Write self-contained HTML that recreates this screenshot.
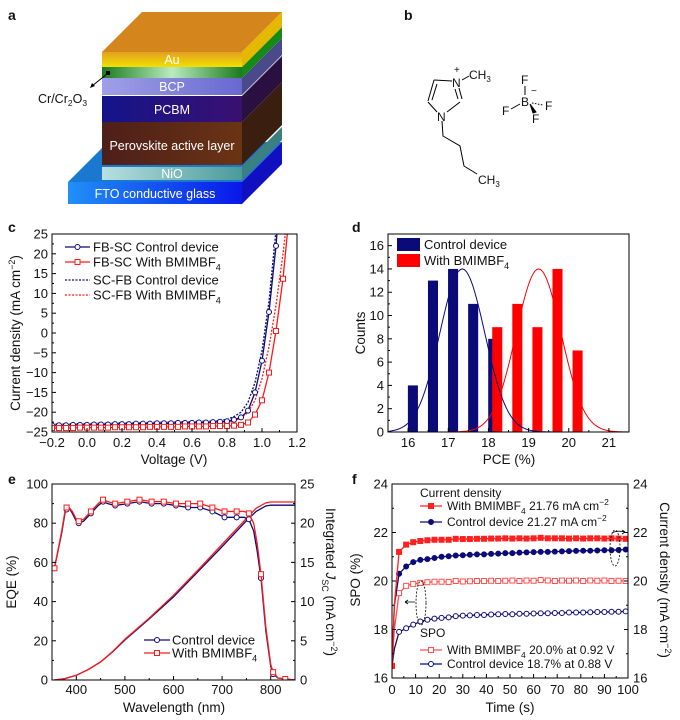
<!DOCTYPE html>
<html><head><meta charset="utf-8">
<style>
html,body{margin:0;padding:0;background:#fff;}
svg{display:block;font-family:"Liberation Sans",Arial,sans-serif;}
text{fill:#111;}
</style></head>
<body>
<svg id="fig" width="680" height="720" viewBox="0 0 680 720" xmlns="http://www.w3.org/2000/svg">
<defs>
<linearGradient id="gAu" x1="0" y1="0" x2="0" y2="1"><stop offset="0" stop-color="#e2a020"/><stop offset="1" stop-color="#f2e000"/></linearGradient>
<linearGradient id="gGr" x1="0" y1="0" x2="1" y2="0"><stop offset="0" stop-color="#1c7a1c"/><stop offset="0.5" stop-color="#b8ecc0"/><stop offset="1" stop-color="#1c7a1c"/></linearGradient>
<linearGradient id="gBcp" x1="0" y1="0" x2="1" y2="0"><stop offset="0" stop-color="#a0a0e8"/><stop offset="1" stop-color="#6868d0"/></linearGradient>
<linearGradient id="gPc" x1="0" y1="0" x2="1" y2="0"><stop offset="0" stop-color="#14148a"/><stop offset="1" stop-color="#3a1070"/></linearGradient>
<linearGradient id="gPv" x1="0" y1="0" x2="1" y2="0"><stop offset="0" stop-color="#4e1e1a"/><stop offset="1" stop-color="#6a3414"/></linearGradient>
<linearGradient id="gNi" x1="0" y1="0" x2="1" y2="0"><stop offset="0" stop-color="#b8e0e0"/><stop offset="1" stop-color="#4a9a9a"/></linearGradient>
<linearGradient id="gFto" x1="0" y1="0" x2="1" y2="0"><stop offset="0" stop-color="#2090f8"/><stop offset="1" stop-color="#0818e8"/></linearGradient>
<clipPath id="clipC"><rect x="52" y="234" width="245" height="198"/></clipPath>
<clipPath id="clipD"><rect x="388" y="234" width="241" height="198"/></clipPath>
<clipPath id="clipE"><rect x="52" y="484" width="243" height="196"/></clipPath>
<clipPath id="clipF"><rect x="392" y="484" width="236" height="194"/></clipPath>
</defs>

<!-- Panel a -->
<g>
<text x="8" y="20" font-size="14" font-weight="bold">a</text>
<polygon points="68,182 108,142 282,142 242,182" fill="#1a78d0"/>
<polygon points="242,182 282,142 282,164 242,204" fill="#1010c0"/>
<rect x="68" y="182" width="174" height="22" fill="url(#gFto)"/>
<polygon points="242,167 282,127 282,140 242,180" fill="#3a8080"/>
<rect x="102" y="167" width="140" height="13" fill="url(#gNi)"/>
<polygon points="242,122 282,82 282,125 242,165" fill="#3a1e10"/>
<rect x="102" y="122" width="140" height="43" fill="url(#gPv)"/>
<polygon points="242,96 282,56 282,82 242,122" fill="#2a1040"/>
<rect x="102" y="96" width="140" height="26" fill="url(#gPc)"/>
<polygon points="242,78 282,38 282,55 242,95" fill="#4a4a8a"/>
<rect x="102" y="78" width="140" height="17" fill="url(#gBcp)"/>
<polygon points="242,67 282,27 282,38 242,78" fill="#168a16"/>
<rect x="102" y="67" width="140" height="11" fill="url(#gGr)"/>
<polygon points="102,52 142,12 282,12 242,52" fill="#d4851c"/>
<polygon points="242,52 282,12 282,27 242,67" fill="#e6b800"/>
<rect x="102" y="52" width="140" height="15" fill="url(#gAu)"/>
<g fill="#fff" font-size="12.5" text-anchor="middle">
<text x="172" y="64" style="fill:#fff">Au</text>
<text x="172" y="91" style="fill:#fff">BCP</text>
<text x="172" y="114" style="fill:#fff">PCBM</text>
<text x="172" y="150" style="fill:#fff">Perovskite active layer</text>
<text x="172" y="178" style="fill:#fff">NiO</text>
<text x="155" y="198" style="fill:#fff">FTO conductive glass</text>
</g>
<rect x="106" y="71" width="4" height="4" fill="#000"/>
<line x1="107" y1="74" x2="92" y2="86" stroke="#000" stroke-width="1"/>
<polygon points="90,88 92,83 95,86" fill="#000"/>
<text x="38" y="103" font-size="12.5">Cr/Cr<tspan font-size="8.5" dy="3">2</tspan><tspan dy="-3">O</tspan><tspan font-size="8.5" dy="3">3</tspan></text>
</g>

<!-- Panel b -->
<g stroke="#000" stroke-width="1" fill="none">
<text x="404" y="20" font-size="14" font-weight="bold" stroke="none">b</text>
<line x1="434" y1="80" x2="452" y2="81"/>
<line x1="459" y1="88" x2="462" y2="99"/>
<line x1="455" y1="89" x2="458" y2="99"/>
<line x1="460" y1="102" x2="447" y2="112"/>
<line x1="437" y1="112" x2="428" y2="102"/>
<line x1="428" y1="101" x2="434" y2="80"/>
<line x1="432" y1="100" x2="437" y2="84"/>
<line x1="462" y1="80" x2="469" y2="76"/>
<polyline points="442,121 443,136 460,146 464,166 477,174"/>
<g stroke="none" font-size="12" fill="#000">
<text x="452" y="87">N</text>
<text x="454" y="73" font-size="10">+</text>
<text x="469" y="79">CH<tspan font-size="8" dy="3">3</tspan></text>
<text x="437" y="121">N</text>
<text x="478" y="184">CH<tspan font-size="8" dy="3">3</tspan></text>
<text x="521" y="106">B</text>
<text x="531" y="94" font-size="10">−</text>
<text x="521" y="84">F</text>
<text x="502" y="115">F</text>
<text x="545" y="110">F</text>
<text x="532" y="123">F</text>
</g>
<line x1="525" y1="86" x2="525" y2="95"/>
<line x1="511" y1="109" x2="520" y2="104"/>
<line x1="532" y1="103" x2="543" y2="105" stroke-dasharray="1.5,1.5"/>
<polygon points="530,104 536,112 533,113" fill="#000"/>
</g>
</svg>
<script>
const NS="http://www.w3.org/2000/svg";
const svg=document.getElementById('fig');

// ---------- DATA ----------
// Panel c (J-V)
const cVolt=[-0.2,-0.16,-0.12,-0.08,-0.04,0,0.04,0.08,0.12,0.16,0.2,0.24,0.28,0.32,0.36,0.4,0.44,0.48,0.52,0.56,0.6,0.64,0.68,0.72,0.76,0.8,0.84,0.88,0.92,0.96,1.0,1.04,1.08,1.12,1.16];
const cFbControl=[-23.3,-23.3,-23.3,-23.2,-23.2,-23.2,-23.1,-23.1,-23.1,-23.0,-23.0,-23.0,-22.9,-22.9,-22.9,-22.8,-22.8,-22.8,-22.7,-22.7,-22.7,-22.6,-22.6,-22.5,-22.4,-22.3,-21.9,-21.3,-19.6,-15,-7,5.3,22,45,70];
const cFbBmim=[-24.0,-24.0,-24.0,-24.0,-23.9,-23.9,-23.9,-23.9,-23.9,-23.8,-23.8,-23.8,-23.8,-23.8,-23.7,-23.7,-23.7,-23.7,-23.7,-23.6,-23.6,-23.6,-23.6,-23.5,-23.5,-23.5,-23.4,-23.2,-22.6,-20.6,-17,-10,0.5,13.7,32];
const cScControl=[-23.0,-23.0,-23.0,-22.9,-22.9,-22.9,-22.8,-22.8,-22.8,-22.7,-22.7,-22.7,-22.6,-22.6,-22.6,-22.5,-22.5,-22.5,-22.4,-22.4,-22.4,-22.3,-22.3,-22.2,-22.1,-21.8,-21.1,-20,-17.5,-12.5,-4.5,8,26,50,75];
const cScBmim=[-23.6,-23.6,-23.6,-23.5,-23.5,-23.5,-23.4,-23.4,-23.4,-23.3,-23.3,-23.3,-23.2,-23.2,-23.2,-23.1,-23.1,-23.1,-23.0,-23.0,-23.0,-23.0,-22.9,-22.9,-22.8,-22.7,-22.2,-21.5,-20,-17,-11.5,-3.5,7,20,35];
const cXTicks=[-0.2,0,0.2,0.4,0.6,0.8,1.0,1.2];
const cXTickLabels=["−0.2","0.0","0.2","0.4","0.6","0.8","1.0","1.2"];
const cYTicks=[-25,-20,-15,-10,-5,0,5,10,15,20,25];
const cYTickLabels=["−25","−20","−15","−10","−5","0","5","10","15","20","25"];

// Panel d (histogram)
const dControlBins=[16.12,16.62,17.12,17.62,18.12];
const dControlCounts=[4,13,14,11,8];
const dBmimBins=[18.22,18.72,19.22,19.72,20.22];
const dBmimCounts=[9,11,9,14,7];
const dControlFit=[17.35,14,0.56]; // center, height, sigma
const dBmimFit=[19.25,14,0.56];
const dXTicks=[16,17,18,19,20,21];
const dYTicks=[0,2,4,6,8,10,12,14,16];

// Panel e (EQE)
const eWl=[355,370,378,385,392,400,405,415,430,445,455,465,480,505,530,555,580,605,630,655,680,705,730,745,755,765,772,780,790,800,805,815,830,850];
const eEqeControl=[57,75,87,88,85,81,80,81,85,89,91,90,89,90,91,90,90,89,88,88,86,83,83,83,82,76,66,52,25,7,3,1,0.5,0];
const eEqeBmim=[57,76,88,88,86,82,81,82,86,90,92,91,90,91,92,91,91,90,90,90,88,86,86,86,85,80,70,54,27,8,4,1,0.5,0];
const eMarkWl=[355,380,405,430,455,480,505,530,555,580,605,630,655,680,705,730,755,780,805,830];
const eMarkControl=[57,87,80,85,91,89,90,91,90,90,89,88,88,86,83,83,82,52,3,0.5];
const eMarkBmim=[57,88,81,86,92,90,91,92,91,91,90,90,90,88,86,86,85,54,4,0.5];
const eJWl=[355,375,400,425,450,475,500,550,600,650,700,750,770,790,800,850];
const eJControl=[0,0.15,0.6,1.35,2.3,3.6,5.1,7.8,10.6,13.8,17,20.3,21.5,22.2,22.3,22.3];
const eJBmim=[0,0.15,0.6,1.35,2.3,3.65,5.2,7.9,10.8,14.0,17.3,20.6,21.9,22.6,22.7,22.7];
const eXTicks=[400,500,600,700,800];
const eYTicks=[0,20,40,60,80,100];
const eY2Ticks=[0,5,10,15,20,25];

// Panel f (SPO)
const fTime=[0,1,3,6,9,12,15,18,21,24,27,30,33,36,39,42,45,48,51,54,57,60,63,66,69,72,75,78,81,84,87,90,93,96,99];
const fJBmim=[16.5,19.0,21.2,21.5,21.6,21.65,21.68,21.7,21.7,21.7,21.74,21.73,21.73,21.74,21.74,21.75,21.75,21.76,21.75,21.76,21.75,21.76,21.78,21.76,21.76,21.76,21.75,21.76,21.75,21.76,21.76,21.75,21.76,21.75,21.74];
const fJControl=[16.5,19.0,20.3,20.6,20.78,20.87,20.9,20.95,21.0,21.02,21.05,21.06,21.08,21.1,21.1,21.12,21.13,21.15,21.15,21.17,21.18,21.19,21.2,21.2,21.21,21.22,21.23,21.24,21.25,21.25,21.26,21.27,21.27,21.28,21.3];
const fSpoBmim=[16.5,18.0,19.5,19.8,19.88,19.92,19.95,19.97,19.97,19.96,20.0,19.98,19.99,20.0,20.0,20.01,20.0,20.01,20.02,20.0,20.02,20.01,20.04,20.02,20.0,20.02,20.01,20.02,20.0,20.02,20.01,20.02,20.0,20.01,20.0];
const fSpoControl=[16.5,17.2,17.9,18.05,18.2,18.33,18.4,18.45,18.48,18.5,18.55,18.57,18.58,18.6,18.6,18.62,18.63,18.64,18.63,18.65,18.65,18.66,18.67,18.67,18.68,18.68,18.7,18.7,18.7,18.71,18.72,18.72,18.73,18.73,18.75];
const fXTicks=[0,10,20,30,40,50,60,70,80,90,100];
const fYTicks=[16,18,20,22,24];

// ---------- HELPERS ----------
const NAVY="#0a0a78", RED="#ff1a1a";
function E(tag,a,p){const e=document.createElementNS(NS,tag);for(const k in a)e.setAttribute(k,a[k]);(p||svg).appendChild(e);return e;}
function lin(d0,d1,r0,r1){return v=>r0+(v-d0)*(r1-r0)/(d1-d0);}
function txt(x,y,s,size,anchor,p,rot){const t=E('text',{x:x,y:y,'font-size':size,'text-anchor':anchor||'start'},p);if(rot)t.setAttribute('transform','rotate('+rot+' '+x+' '+y+')');t.innerHTML=s;return t;}

function frame(g,x0,y0,x1,y1,name){
  const r=E('rect',{x:x0,y:y0,width:x1-x0,height:y1-y0,fill:'none',stroke:'#000','stroke-width':1},g);
  
  
}
function xTicks(g,xs,ticks,labels,y,ly,minor,name){
  ticks.forEach((v,i)=>{
    const l=E('line',{x1:xs(v),x2:xs(v),y1:y,y2:y-4,stroke:'#000'},g);
    
    
    const t=txt(xs(v),ly,labels[i],13,'middle',g);
    
    
  });
  (minor||[]).forEach(v=>{
    const l=E('line',{x1:xs(v),x2:xs(v),y1:y,y2:y-2,stroke:'#000'},g);
    
    
  });
}
function yTicks(g,ys,ticks,labels,x,lx,dir,anchor,minor,name){
  ticks.forEach((v,i)=>{
    const l=E('line',{x1:x,x2:x+4*dir,y1:ys(v),y2:ys(v),stroke:'#000'},g);
    
    
    const t=txt(lx,ys(v)+4.5,labels[i],13,anchor,g);
    
    
  });
  (minor||[]).forEach(v=>{
    const l=E('line',{x1:x,x2:x+2*dir,y1:ys(v),y2:ys(v),stroke:'#000'},g);
    
    
  });
}
function pts(xa,ya,xs,ys){return xa.map((x,i)=>xs(x).toFixed(2)+','+ys(ya[i]).toFixed(2)).join(' ');}
function marker(g,kind,x,y,color,fill,size){
  let m;
  if(kind==='c') m=E('circle',{cx:x,cy:y,r:size/2,fill:fill,stroke:color,'stroke-width':1},g);
  else m=E('rect',{x:x-size/2,y:y-size/2,width:size,height:size,fill:fill,stroke:color,'stroke-width':1},g);
  return m;
}

// ---------- PANEL C ----------
(function(){
  const g=E('g',{});
  
  
  const xs=lin(-0.2,1.2,52,297), ys=lin(-25,25,432,234);
  const lab=txt(8,232,'c',14,'start',g); lab.setAttribute('font-weight','bold');
  
  
  const pg=E('g',{'clip-path':'url(#clipC)'},g);
  const series=[[cScControl,NAVY,'2,1.5',null,'jv-sc-fb-control'],[cScBmim,RED,'2,1.5',null,'jv-sc-fb-bmim'],[cFbControl,NAVY,null,'c','jv-fb-sc-control'],[cFbBmim,RED,null,'s','jv-fb-sc-bmim']];
  series.forEach(s=>{
    const pl=E('polyline',{points:pts(cVolt,s[0],xs,ys),fill:'none',stroke:s[1],'stroke-width':1.3},pg);
    if(s[2]) pl.setAttribute('stroke-dasharray',s[2]);
    
    
    if(s[3]) cVolt.forEach((v,i)=>{
      if(s[0][i]>26) return;
      const m=marker(pg,s[3],xs(v),ys(s[0][i]),s[1],'#fff',5);
      
      
    });
  });
  frame(g,52,234,297,432,'jv');
  xTicks(g,xs,cXTicks,cXTickLabels,432,447,[-0.1,0.1,0.3,0.5,0.7,0.9,1.1],'jv');
  yTicks(g,ys,cYTicks,cYTickLabels,52,48,1,'end',[-22.5,-17.5,-12.5,-7.5,-2.5,2.5,7.5,12.5,17.5,22.5],'jv');
  const xt=txt(174,464,'Voltage (V)',13.5,'middle',g);
  
  
  const yt=txt(20,333,'Current density (mA cm<tspan font-size="9" dy="-5">−2</tspan><tspan dy="5">)</tspan>',13.5,'middle',g,-90);
  
  
  const leg=[['FB-SC Control device',NAVY,null,'c',247],['FB-SC With BMIMBF<tspan font-size="9" dy="4">4</tspan>',RED,null,'s',262],['SC-FB Control device',NAVY,'2,1.5',null,280],['SC-FB With BMIMBF<tspan font-size="9" dy="4">4</tspan>',RED,'2,1.5',null,295]];
  leg.forEach(l=>{
    const ln=E('line',{x1:65,x2:90,y1:l[4],y2:l[4],stroke:l[1],'stroke-width':1.3},g);
    if(l[2]) ln.setAttribute('stroke-dasharray',l[2]);
    
    
    if(l[3]){const m=marker(g,l[3],77.5,l[4],l[1],'#fff',5);
      
      }
    const t=txt(93,l[4]+4.5,l[0],13,'start',g);
    
    
  });
})();

// ---------- PANEL D ----------
(function(){
  const g=E('g',{});
  
  
  const xs=lin(15.5,21.5,388,629), ys=lin(0,17,432,234);
  const lab=txt(352,232,'d',14,'start',g); lab.setAttribute('font-weight','bold');
  
  
  const pg=E('g',{'clip-path':'url(#clipD)'},g);
  const bw=0.25;
  dControlBins.forEach((b,i)=>{
    const r=E('rect',{x:xs(b-bw/2),y:ys(dControlCounts[i]),width:xs(b+bw/2)-xs(b-bw/2),height:ys(0)-ys(dControlCounts[i]),fill:NAVY},pg);
    
    
  });
  dBmimBins.forEach((b,i)=>{
    const r=E('rect',{x:xs(b-bw/2),y:ys(dBmimCounts[i]),width:xs(b+bw/2)-xs(b-bw/2),height:ys(0)-ys(dBmimCounts[i]),fill:'#ff0000'},pg);
    
    
  });
  [[dControlFit,NAVY,'fit-control'],[dBmimFit,'#ff0000','fit-bmim']].forEach(f=>{
    const a=[];
    for(let x=15.5;x<=21.5001;x+=0.05){const y=f[0][1]*Math.exp(-Math.pow(x-f[0][0],2)/(2*f[0][2]*f[0][2]));a.push(xs(x).toFixed(2)+','+ys(y).toFixed(2));}
    const pl=E('polyline',{points:a.join(' '),fill:'none',stroke:f[1],'stroke-width':1},pg);
    
    
  });
  frame(g,388,234,629,432,'hist');
  xTicks(g,xs,dXTicks,dXTicks.map(String),432,447,[15.5,16.5,17.5,18.5,19.5,20.5,21.5],'hist');
  yTicks(g,ys,dYTicks,dYTicks.map(String),388,384,1,'end',[1,3,5,7,9,11,13,15],'hist');
  const xt=txt(509,464,'PCE (%)',13.5,'middle',g);
  
  
  const yt=txt(365,333,'Counts',13.5,'middle',g,-90);
  
  
  const r1=E('rect',{x:397,y:238,width:23,height:13,fill:NAVY},g);
  
  
  const t1=txt(424,249,'Control device',13,'start',g);
  
  
  const r2=E('rect',{x:397,y:254,width:23,height:13,fill:'#ff0000'},g);
  
  
  const t2=txt(424,265,'With BMIMBF<tspan font-size="9" dy="4">4</tspan>',13,'start',g);
  
  
})();

// ---------- PANEL E ----------
(function(){
  const g=E('g',{});
  
  
  const xs=lin(350,850,52,295), ys=lin(0,100,680,484), ys2=lin(0,25,680,484);
  const lab=txt(8,484,'e',14,'start',g); lab.setAttribute('font-weight','bold');
  
  
  const pg=E('g',{'clip-path':'url(#clipE)'},g);
  [[eJControl,NAVY,'jsc-control'],[eJBmim,RED,'jsc-bmim']].forEach(s=>{
    const pl=E('polyline',{points:pts(eJWl,s[0],xs,ys2),fill:'none',stroke:s[1],'stroke-width':1.3},pg);
    
    
  });
  [[eEqeControl,eMarkControl,NAVY,'c','eqe-control'],[eEqeBmim,eMarkBmim,RED,'s','eqe-bmim']].forEach(s=>{
    const pl=E('polyline',{points:pts(eWl,s[0],xs,ys),fill:'none',stroke:s[2],'stroke-width':1.3},pg);
    
    
    eMarkWl.forEach((w,i)=>{
      const m=marker(pg,s[3],xs(w),ys(s[1][i]),s[2],'#fff',5);
      
      
    });
  });
  frame(g,52,484,295,680,'eqe');
  xTicks(g,xs,eXTicks,eXTicks.map(String),680,694,[350,450,550,650,750,850],'eqe');
  yTicks(g,ys,eYTicks,eYTicks.map(String),52,48,1,'end',[10,30,50,70,90],'eqe');
  yTicks(g,ys2,eY2Ticks,eY2Ticks.map(String),295,300,-1,'start',[2.5,7.5,12.5,17.5,22.5],'eqe-right');
  const xt=txt(174,712,'Wavelength (nm)',13.5,'middle',g);
  
  
  const yt=txt(16,582,'EQE (%)',13.5,'middle',g,-90);
  
  
  const yt2=txt(326,582,'Integrated <tspan font-style="italic">J</tspan><tspan font-size="9" dy="4">SC</tspan><tspan dy="-4"> (mA cm</tspan><tspan font-size="9" dy="-5">−2</tspan><tspan dy="5">)</tspan>',13.5,'middle',g,90);
  
  
  [['Control device',NAVY,'c',640],['With BMIMBF<tspan font-size="9" dy="4">4</tspan>',RED,'s',653]].forEach(l=>{
    const ln=E('line',{x1:144,x2:170,y1:l[3],y2:l[3],stroke:l[1],'stroke-width':1.3},g);
    
    
    const m=marker(g,l[2],157,l[3],l[1],'#fff',5);
    
    
    const t=txt(172,l[3]+4.5,l[0],13,'start',g);
    
    
  });
})();

// ---------- PANEL F ----------
(function(){
  const g=E('g',{});
  
  
  const xs=lin(0,100,392,628), ys=lin(16,24,678,484);
  const lab=txt(352,484,'f',14,'start',g); lab.setAttribute('font-weight','bold');
  
  
  const pg=E('g',{'clip-path':'url(#clipF)'},g);
  const RC="#ff2020", RL="#ff5050";
  const series=[[fSpoControl,NAVY,'c','#fff','spo-control'],[fSpoBmim,RL,'s','#fff','spo-bmim'],[fJControl,NAVY,'c',NAVY,'jsc-control'],[fJBmim,RC,'s',RC,'jsc-bmim']];
  series.forEach(s=>{
    const pl=E('polyline',{points:pts(fTime,s[0],xs,ys),fill:'none',stroke:s[1],'stroke-width':1.3},pg);
    
    
    fTime.forEach((t,i)=>{
      if(t%3!==0) return;
      const m=marker(pg,s[2],xs(t),ys(s[0][i]),s[1],s[3],5);
      
      
    });
  });
  frame(g,392,484,628,678,'spo');
  xTicks(g,xs,fXTicks,fXTicks.map(String),678,694,[5,15,25,35,45,55,65,75,85,95],'spo');
  yTicks(g,ys,fYTicks,fYTicks.map(String),392,388,1,'end',[17,19,21,23],'spo');
  yTicks(g,ys,fYTicks,fYTicks.map(String),628,633,-1,'start',[17,19,21,23],'spo-right');
  const xt=txt(510,712,'Time (s)',13.5,'middle',g);
  
  
  const yt=txt(360,580,'SPO (%)',13.5,'middle',g,-90);
  
  
  const yt2=txt(660,580,'Current density (mA cm<tspan font-size="9" dy="-5">−2</tspan><tspan dy="5">)</tspan>',13.5,'middle',g,90);
  
  
  const h1=txt(420,497,'Current density',12,'start',g);
  
  
  const h2=txt(420,637,'SPO',12,'start',g);
  
  
  [['With BMIMBF<tspan font-size="8.5" dy="4">4</tspan><tspan dy="-4"> 21.76 mA cm</tspan><tspan font-size="8.5" dy="-5">−2</tspan>',RC,'s',RC,506],
   ['Control device 21.27 mA cm<tspan font-size="8.5" dy="-5">−2</tspan>',NAVY,'c',NAVY,522],
   ['With BMIMBF<tspan font-size="8.5" dy="4">4</tspan><tspan dy="-4"> 20.0% at 0.92 V</tspan>',RL,'s','#fff',650],
   ['Control device 18.7% at 0.88 V',NAVY,'c','#fff',664]].forEach(l=>{
    const ln=E('line',{x1:420,x2:442,y1:l[4],y2:l[4],stroke:l[1],'stroke-width':1.3},g);
    
    
    const m=marker(g,l[2],431,l[4],l[1],l[3],5);
    
    
    const t=txt(447,l[4]+4,l[0],12,'start',g);
    
    
  });
  const e1=E('ellipse',{cx:421,cy:603,rx:5,ry:22,fill:'none',stroke:'#000','stroke-dasharray':'2,1.5','stroke-width':0.8},g);
  
  
  const a1=E('path',{d:'M415,602 L405,602 M405,602 l3,-2 M405,602 l3,2',stroke:'#000',fill:'none','stroke-width':0.8},g);
  
  
  const e2=E('ellipse',{cx:615,cy:548,rx:5,ry:18,fill:'none',stroke:'#000','stroke-dasharray':'2,1.5','stroke-width':0.8},g);
  
  
  const a2=E('path',{d:'M612,533 Q617,530 625,532 M625,532 l-3,-2 M625,532 l-3,2',stroke:'#000',fill:'none','stroke-width':0.8},g);
  
  
})();
</script>
</body></html>
